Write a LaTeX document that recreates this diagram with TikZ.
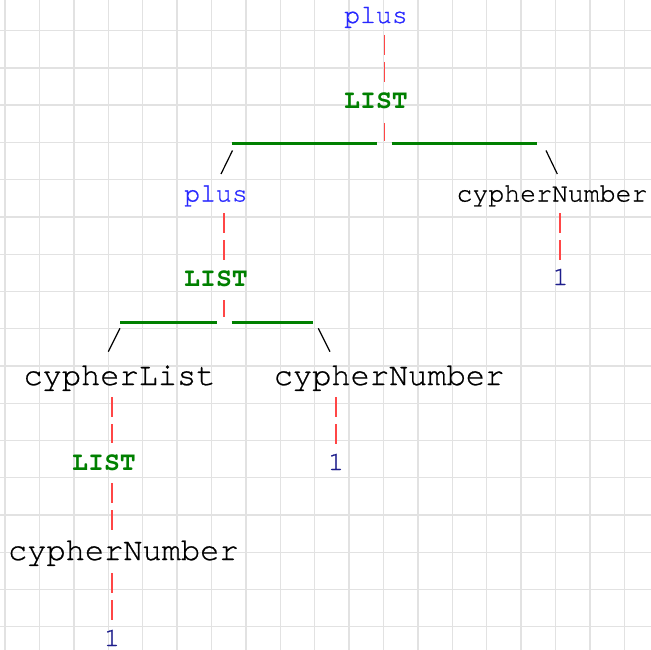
\documentclass[tikz,border=0pt]{standalone}
\usepackage{fontspec}
\newfontfamily\cmono[FakeBold=0.7]{TeX Gyre Cursor}
\newfontfamily\cmonob{TeX Gyre Cursor}
\definecolor{gridc}{RGB}{226,226,226}
\definecolor{plusc}{RGB}{40,40,255}
\definecolor{listc}{RGB}{0,128,0}
\definecolor{onec}{RGB}{30,30,140}
\definecolor{redc}{RGB}{255,70,70}
\tikzset{
  small/.style={inner sep=0pt, anchor=base, font=\cmono\fontsize{26.5}{30}\selectfont},
  large/.style={inner sep=0pt, anchor=base, font=\cmono\fontsize{32}{36}\selectfont, text=black},
  plusnode/.style={small, text=plusc},
  listnode/.style={small, text=listc, font=\cmonob\bfseries\fontsize{26.5}{30}\selectfont},
  onenode/.style={small, text=onec},
  numsmall/.style={small, text=black},
  redlink/.style={draw=redc, line width=1.3pt, dash pattern=on 20pt off 7pt},
  bar/.style={draw=listc, line width=3pt},
  slash/.style={draw=black, line width=1.2pt}
}
\begin{document}
\begin{tikzpicture}[x=1pt,y=-1pt]
\fill[white] (0,0) rectangle (651,650);
\useasboundingbox (0,0) rectangle (651,650);
% grid
\foreach \k in {0,...,18} \draw[gridc, line width=1.4pt] ({5+34.4*\k},0) -- ({5+34.4*\k},650);
\foreach \k in {0,...,16} \draw[gridc, line width=1.4pt] (0,{30.7+37.25*\k}) -- (651,{30.7+37.25*\k});

% nodes
\node[plusnode] (p1) at (376,23) {plus};
\node[listnode] (l1) at (376,108.5) {LIST};
\node[plusnode] (p2) at (216,201.5) {plus};
\node[numsmall] (n1) at (552,201.5) {cypherNumber};
\node[onenode] (o1) at (560.5,285) {1};
\node[listnode] (l2) at (216,286.7) {LIST};
\node[large] (cl) at (119.5,385) {cypherList};
\node[large] (n2) at (389,385) {cypherNumber};
\node[onenode] (o2) at (336,470) {1};
\node[listnode] (l3) at (104,470) {LIST};
\node[large] (n3) at (123.3,560) {cypherNumber};
\node[onenode] (o3) at (112,646) {1};

% connector coordinates
\coordinate (a1) at (384.3,35); \coordinate (a2) at (384.3,82);
\coordinate (a3) at (384.3,123); \coordinate (a4) at (384.3,141);
\coordinate (b1) at (224,213); \coordinate (b2) at (224,260);
\coordinate (b3) at (224,300); \coordinate (b4) at (224,317);
\coordinate (c1) at (560,213); \coordinate (c2) at (560,262);
\coordinate (d1) at (112,397); \coordinate (d2) at (112,443);
\coordinate (d3) at (112,483); \coordinate (d4) at (112,530);
\coordinate (d5) at (112,573); \coordinate (d6) at (112,620);
\coordinate (e1) at (336,397); \coordinate (e2) at (336,443.5);

\draw[redlink] (a1) -- (a2);
\draw[redlink] (a3) -- (a4);
\draw[redlink] (b1) -- (b2);
\draw[redlink] (b3) -- (b4);
\draw[redlink] (c1) -- (c2);
\draw[redlink] (d1) -- (d2);
\draw[redlink] (d3) -- (d4);
\draw[redlink] (d5) -- (d6);
\draw[redlink] (e1) -- (e2);

% green bars
\coordinate (g1) at (231.7,144); \coordinate (g2) at (376.7,144);
\coordinate (g3) at (391.7,144); \coordinate (g4) at (537.3,144);
\coordinate (h1) at (120,322.5); \coordinate (h2) at (217,322.5);
\coordinate (h3) at (231.7,322.5); \coordinate (h4) at (312.7,322.5);
\draw[bar] (g1) -- (g2);
\draw[bar] (g3) -- (g4);
\draw[bar] (h1) -- (h2);
\draw[bar] (h3) -- (h4);

% slashes
\coordinate (s1) at (232.5,150.5); \coordinate (s2) at (221,174);
\coordinate (s3) at (546,150.5); \coordinate (s4) at (557.3,174);
\coordinate (t1) at (120,328.3); \coordinate (t2) at (108.3,351.7);
\coordinate (t3) at (318.3,328.3); \coordinate (t4) at (330,351.7);
\draw[slash] (s1) -- (s2);
\draw[slash] (s3) -- (s4);
\draw[slash] (t1) -- (t2);
\draw[slash] (t3) -- (t4);
\end{tikzpicture}
\end{document}
